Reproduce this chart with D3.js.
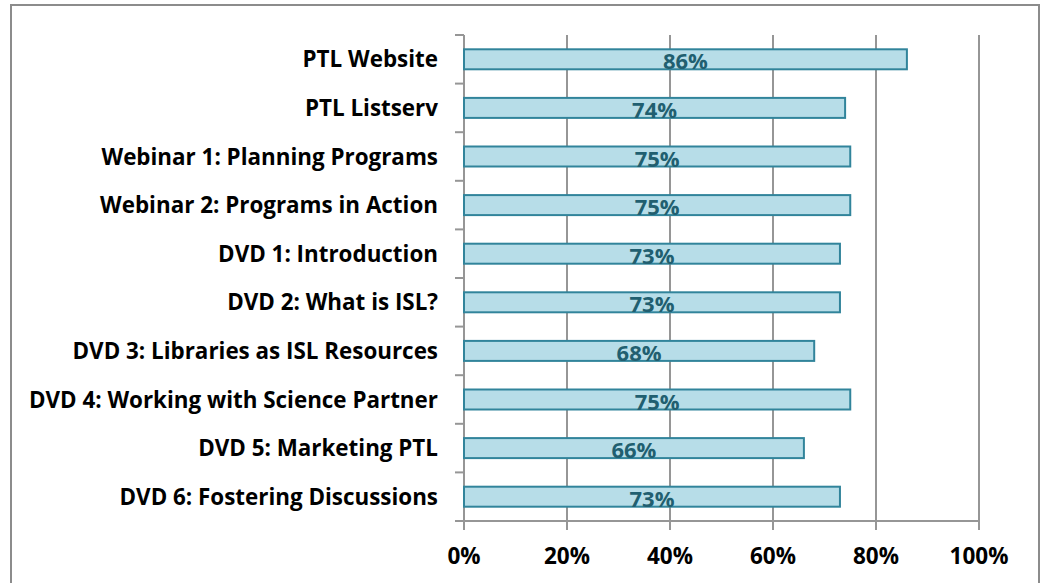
<!DOCTYPE html>
<html>
<head>
<meta charset="utf-8">
<script src="https://d3js.org/d3.v7.min.js"></script>
<style>
  body { margin: 0; background: #fff; }
  svg { display: block; }
</style>
</head>
<body>
<script>
(function () {
  'use strict';

  const width = 1041,
    height = 583;

  // data
  var categories = [
    "PTL Website",
    "PTL Listserv",
    "Webinar 1: Planning Programs",
    "Webinar 2: Programs in Action",
    "DVD 1: Introduction",
    "DVD 2: What is ISL?",
    "DVD 3: Libraries as ISL Resources",
    "DVD 4: Working with Science Partner",
    "DVD 5: Marketing PTL",
    "DVD 6: Fostering Discussions"
  ];
  var values = [0.86, 0.74, 0.75, 0.75, 0.73, 0.73, 0.68, 0.75, 0.66, 0.73];
  var xTicks = [0, 0.2, 0.4, 0.6, 0.8, 1.0];

  var margin = { left: 464, right: 62, top: 35, bottom: 62 };

  var svg = d3.select('body')
    .append('svg')
    .attr('width', width)
    .attr('height', height);

  // outer frame
  svg.append('rect')
    .attr('x', 11).attr('y', 5)
    .attr('width', 1028).attr('height', 600)
    .style('fill', '#fff')
    .style('stroke', '#8c8c8c')
    .style('stroke-width', 2);

  var x = d3.scaleLinear()
    .domain([0, 1])
    .range([margin.left, width - margin.right]);

  var y = d3.scaleBand()
    .domain(categories)
    .range([margin.top, height - margin.bottom]);

  var font = "'Open Sans', sans-serif";

  // gridlines
  svg.selectAll('.grid')
    .data(xTicks.slice(1))
    .enter()
    .append('line')
    .attr('x1', d => x(d)).attr('x2', d => x(d))
    .attr('y1', margin.top).attr('y2', height - margin.bottom)
    .style('stroke', '#969696')
    .style('stroke-width', 2);

  // left axis line + ticks
  var bounds = categories.map(c => y(c)).concat([height - margin.bottom]);
  svg.append('line')
    .attr('x1', x(0)).attr('x2', x(0))
    .attr('y1', margin.top).attr('y2', height - margin.bottom)
    .style('stroke', '#969696').style('stroke-width', 2);
  svg.selectAll('.ytick')
    .data(bounds)
    .enter()
    .append('line')
    .attr('x1', x(0) - 9).attr('x2', x(0))
    .attr('y1', d => d).attr('y2', d => d)
    .style('stroke', '#969696').style('stroke-width', 2);

  // bottom axis
  svg.append('line')
    .attr('x1', x(0) - 9).attr('x2', x(1))
    .attr('y1', height - margin.bottom).attr('y2', height - margin.bottom)
    .style('stroke', '#969696').style('stroke-width', 2);
  svg.selectAll('.xtick')
    .data(xTicks)
    .enter()
    .append('line')
    .attr('x1', d => x(d)).attr('x2', d => x(d))
    .attr('y1', height - margin.bottom).attr('y2', height - margin.bottom + 9)
    .style('stroke', '#969696').style('stroke-width', 2);

  svg.selectAll('.xlabel')
    .data(xTicks)
    .enter()
    .append('text')
    .attr('x', d => x(d))
    .attr('y', 564)
    .attr('text-anchor', 'middle')
    .style('font-family', font)
    .style('font-weight', 'bold')
    .style('font-size', '22.5px')
    .style('fill', '#000')
    .text(d3.format('.0%'));

  // category labels
  svg.selectAll('.ylabel')
    .data(categories)
    .enter()
    .append('text')
    .attr('x', 438)
    .attr('y', d => y(d) + y.bandwidth() / 2 + 8)
    .attr('text-anchor', 'end')
    .style('font-family', font)
    .style('font-weight', 'bold')
    .style('font-size', '22.4px')
    .style('fill', '#000')
    .text(d => d);

  // bars
  var barH = 20;
  svg.selectAll('.bar')
    .data(values)
    .enter()
    .append('rect')
    .attr('x', x(0))
    .attr('y', (d, i) => y(categories[i]) + y.bandwidth() / 2 - barH / 2)
    .attr('width', d => x(d) - x(0))
    .attr('height', barH)
    .style('fill', '#b7dde8')
    .style('stroke', '#31849b')
    .style('stroke-width', 2);

  // value labels
  svg.selectAll('.vlabel')
    .data(values)
    .enter()
    .append('text')
    .attr('x', d => (x(0) + x(d)) / 2)
    .attr('y', (d, i) => y(categories[i]) + y.bandwidth() / 2 + barH / 2)
    .attr('text-anchor', 'middle')
    .style('font-family', font)
    .style('font-weight', 'bold')
    .style('font-size', '22px')
    .style('fill', '#215f70')
    .text(d3.format('.0%'));

})();
</script>
</body>
</html>
